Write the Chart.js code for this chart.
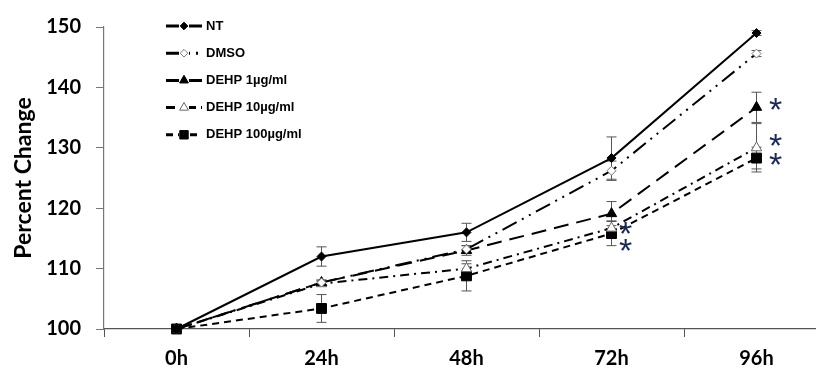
<!DOCTYPE html>
<html><head><meta charset="utf-8">
<script src="https://cdn.jsdelivr.net/npm/chart.js@4.4.1/dist/chart.umd.min.js"></script>
<style>html,body{margin:0;padding:0;background:#fff;overflow:hidden;width:816px;height:378px}canvas{display:block}</style>
</head><body>
<canvas id="c" width="840" height="378" style="width:840px;height:378px"></canvas>
<script>
const categories = ['0h', '24h', '48h', '72h', '96h'];
const seriesNames = ['NT', 'DMSO', 'DEHP 1\u00b5g/ml', 'DEHP 10\u00b5g/ml', 'DEHP 100\u00b5g/ml'];
const nt = [100, 112, 116, 128.3, 149];
const ntErr = [0, 1.6, 1.5, 3.5, 0.4];
const dmso = [100, 107.7, 113.2, 126.2, 145.6];
const dmsoErr = [0, 0.4, 0.6, 1.6, 0.5];
const dehp1 = [100, 107.7, 113, 119.1, 136.7];
const dehp1Err = [0, 0.4, 0.8, 2, 2.5];
const dehp10 = [100, 107.5, 110, 116.7, 130];
const dehp10Err = [0, 0.4, 0.8, 1.2, 4];
const dehp100 = [100, 103.4, 108.8, 115.8, 128.3];
const dehp100Err = [0, 2.3, 2.5, 2, 1.8];
const yTicks = [100, 110, 120, 130, 140, 150];
const yTitle = 'Percent Change';
// significance marks: [category, value]
const sigMarks = [['72h', 116.2], ['72h', 113.3], ['96h', 136.7], ['96h', 130.7], ['96h', 127.5]];

const styles = [
  {dash: [], pointStyle: 'rectRot', r: 4.5, fill: '#000', stroke: '#000'},
  {dash: [16, 6, 2, 6, 2, 6], pointStyle: 'rectRot', r: 4.5, fill: '#fff', stroke: '#777'},
  {dash: [15, 8], pointStyle: 'triangle', r: 6, fill: '#000', stroke: '#000'},
  {dash: [9, 5, 2, 5], pointStyle: 'triangle', r: 6, fill: '#fff', stroke: '#666'},
  {dash: [7, 5], pointStyle: 'rect', r: 7, fill: '#000', stroke: '#000'}
];
const values = [nt, dmso, dehp1, dehp10, dehp100];
const errs = [ntErr, dmsoErr, dehp1Err, dehp10Err, dehp100Err];

const datasets = values.map((v, i) => ({
  label: seriesNames[i],
  data: v,
  errors: errs[i],
  borderColor: '#000',
  borderWidth: 2,
  borderDash: styles[i].dash,
  pointStyle: styles[i].pointStyle,
  pointRadius: styles[i].r,
  pointBackgroundColor: styles[i].fill,
  pointBorderColor: styles[i].stroke,
  pointBorderWidth: 1,
  tension: 0,
  clip: false
}));

const errorBars = {
  id: 'errorBars',
  beforeDatasetsDraw(chart) {
    const ctx = chart.ctx, x = chart.scales.x, y = chart.scales.y;
    ctx.save();
    ctx.strokeStyle = '#555';
    ctx.lineWidth = 1;
    chart.data.datasets.forEach(ds => {
      ds.data.forEach((v, j) => {
        const e = ds.errors[j];
        if (!e) return;
        const px = x.getPixelForValue(j);
        const t = y.getPixelForValue(v + e), b = y.getPixelForValue(v - e);
        ctx.beginPath();
        ctx.moveTo(px, t); ctx.lineTo(px, b);
        ctx.moveTo(px - 5, t); ctx.lineTo(px + 5, t);
        ctx.moveTo(px - 5, b); ctx.lineTo(px + 5, b);
        ctx.stroke();
      });
    });
    ctx.restore();
  }
};

const extras = {
  id: 'extras',
  afterDraw(chart) {
    const ctx = chart.ctx, x = chart.scales.x, y = chart.scales.y;
    ctx.save();
    // significance asterisks
    ctx.fillStyle = '#1b2a55';
    ctx.font = '34px "Liberation Sans", sans-serif';
    ctx.textAlign = 'center';
    ctx.textBaseline = 'middle';
    sigMarks.forEach(([c, v]) => {
      const px = x.getPixelForValue(categories.indexOf(c)) + (c === '96h' ? 19 : 14);
      ctx.fillText('*', px, y.getPixelForValue(v) + 4);
    });
    // legend
    chart.data.datasets.forEach((ds, i) => {
      const yy = 26 + i * 27.2;
      const x0 = 166, x1 = 202, xm = 184;
      ctx.strokeStyle = '#000';
      ctx.lineWidth = 3;
      ctx.setLineDash(ds.borderDash);
      ctx.beginPath(); ctx.moveTo(x0, yy); ctx.lineTo(x1, yy); ctx.stroke();
      ctx.setLineDash([]);
      ctx.fillStyle = '#fff';
      ctx.fillRect(xm - 5, yy - 6, 10, 12);
      ctx.lineWidth = 1;
      ctx.fillStyle = ds.pointBackgroundColor;
      ctx.strokeStyle = ds.pointBorderColor;
      Chart.helpers.drawPoint(ctx, {pointStyle: ds.pointStyle, radius: ds.pointRadius * 0.85, borderWidth: 1}, xm, yy);
      ctx.fillStyle = '#000';
      ctx.font = 'bold 13px "Liberation Sans", Arial, sans-serif';
      ctx.textAlign = 'left';
      ctx.textBaseline = 'middle';
      ctx.fillText(ds.label, 206, yy);
    });
    ctx.restore();
  }
};

new Chart(document.getElementById('c'), {
  type: 'line',
  data: {labels: categories, datasets},
  options: {
    responsive: false,
    animation: false,
    layout: {padding: {top: 18, right: 11, left: 0, bottom: 0}},
    plugins: {legend: {display: false}, tooltip: {enabled: false}},
    scales: {
      x: {
        type: 'category',
        offset: true,
        afterFit(s) { s.height = 49; },
        grid: {offset: true, drawOnChartArea: false, tickLength: 8, color: '#555', tickWidth: 1},
        border: {display: true, color: '#555', width: 1.2},
        ticks: {color: '#000', padding: 10, font: {family: 'Lato', weight: 'bold', size: 20}}
      },
      y: {
        min: 100, max: 150,
        afterFit(s) { s.width = 104; },
        afterBuildTicks(s) { s.ticks = yTicks.map(v => ({value: v})); },
        grid: {drawOnChartArea: false, tickLength: 8, color: '#777'},
        border: {display: true, color: '#777', width: 1.2},
        ticks: {color: '#000', padding: 15, font: {family: 'Lato', weight: 'bold', size: 20}},
        title: {display: true, text: yTitle, color: '#000', padding: {top: 10, bottom: 0}, font: {family: 'Lato', weight: 'bold', size: 23}}
      }
    }
  },
  plugins: [errorBars, extras]
});
</script>
</body></html>
